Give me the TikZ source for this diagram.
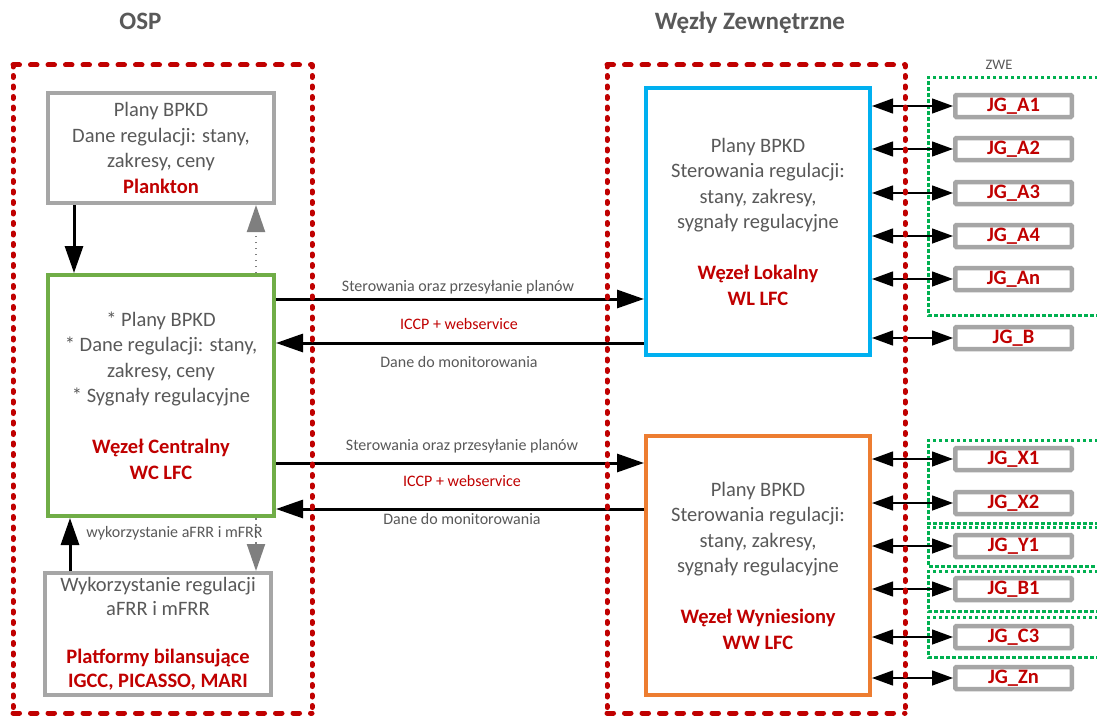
\documentclass[tikz,border=0pt]{standalone}
\usepackage{fontspec}
\setmainfont{Carlito}
\usetikzlibrary{arrows.meta}
\definecolor{txtgray}{HTML}{595959}
\definecolor{darkred}{HTML}{C00000}
\definecolor{boxgray}{HTML}{A6A6A6}
\definecolor{lfcgreen}{HTML}{70AD47}
\definecolor{lfcblue}{HTML}{00B0F0}
\definecolor{lfcorange}{HTML}{ED7D31}
\definecolor{zwegreen}{HTML}{00B050}
\definecolor{tipgray}{HTML}{7F7F7F}
\newcommand{\redb}[1]{\textcolor{darkred}{\bfseries #1}}

\begin{document}
\begin{tikzpicture}[x=1pt,y=-1pt,
  bigtext/.style={font=\fontsize{20.5}{25.5}\selectfont, text=txtgray, align=center},
  panel/.style={draw, line width=4pt, fill=white, inner sep=0pt, bigtext},
  jgbox/.style={draw=boxgray, line width=4.5pt, fill=white, rounded corners=1pt,
    minimum width=116.5pt, minimum height=22pt, inner sep=0pt,
    font=\fontsize{20.5}{24}\selectfont\bfseries, text=darkred},
  smalltext/.style={font=\fontsize{16}{19}\selectfont, text=txtgray, anchor=base},
  title/.style={font=\fontsize{25}{30}\selectfont\bfseries, text=txtgray, anchor=base},
  redh/.style={draw=darkred, line width=5pt, line cap=round, dash pattern=on 6.5pt off 11pt},
  redv/.style={draw=darkred, line width=5pt, line cap=round, dash pattern=on 2pt off 8.5pt},
  zwe/.style={draw=zwegreen, line width=3pt, dash pattern=on 3.5pt off 2.5pt},
  bigarrow/.style={line width=3pt, -{Triangle[length=27pt,width=18pt]}},
  greyarrow/.style={draw=tipgray, line width=2pt, dash pattern=on 1.5pt off 4.5pt,
    -{Triangle[length=27pt,width=18pt,fill=tipgray,color=tipgray,sep=0pt]}},
  dbl/.style={line width=1.3pt, {Triangle[length=21pt,width=15pt]}-{Triangle[length=21pt,width=15pt]}}
]
\clip (0,0) rectangle (1097,717);
\fill[white] (0,0) rectangle (1097,717);

% titles
\node[title] (tosp) at (140.5,29.5) {OSP};
\node[title] (twz) at (750,30) {Węzły Zewnętrzne};
\node[smalltext, font=\fontsize{14.5}{16}\selectfont] (tzwe) at (999,69.5) {ZWE};

% ZWE groups (green dotted frames)
\draw[zwe] (1110,77) -- (928,77) -- (928,315) -- (1110,315);
\draw[zwe] (1110,440) -- (928,440) -- (928,523) -- (1110,523);
\draw[zwe] (1110,527) -- (928,527) -- (928,566) -- (1110,566);
\draw[zwe] (1110,571) -- (928,571) -- (928,611) -- (1110,611);
\draw[zwe] (1110,617) -- (928,617) -- (928,657) -- (1110,657);

% OSP side
\node[panel, draw=boxgray, minimum width=226pt, minimum height=110pt] (plank) at (161,148)
  {Plany BPKD\\Dane regulacji: stany,\\zakresy, ceny\\\redb{Plankton}};
\node[panel, draw=lfcgreen, minimum width=226pt, minimum height=241pt] (wc) at (161,395.5)
  {* Plany BPKD\\* Dane regulacji: stany,\\zakresy, ceny\\* Sygnały regulacyjne\\[25.5pt]\redb{Węzeł Centralny}\\\redb{WC LFC}};
\node[panel, draw=boxgray, minimum width=226pt, minimum height=122pt,
  font=\fontsize{20.5}{24}\selectfont] (plat) at (158,634)
  {Wykorzystanie regulacji\\aFRR i mFRR\\[24pt]\redb{Platformy bilansujące}\\\redb{IGCC, PICASSO, MARI}};

% external nodes
\node[panel, draw=lfcblue, minimum width=224pt, minimum height=267pt] (wl) at (758,221.5)
  {Plany BPKD\\Sterowania regulacji:\\stany, zakresy,\\sygnały regulacyjne\\[25.5pt]\redb{Węzeł Lokalny}\\\redb{WL LFC}};
\node[panel, draw=lfcorange, minimum width=224pt, minimum height=259pt] (ww) at (758,565.5)
  {Plany BPKD\\Sterowania regulacji:\\stany, zakresy,\\sygnały regulacyjne\\[25.5pt]\redb{Węzeł Wyniesiony}\\\redb{WW LFC}};

% generating units
\node[jgbox] (a1) at (1013.5,106) {JG\_A1};
\node[jgbox] (a2) at (1013.5,149) {JG\_A2};
\node[jgbox] (a3) at (1013.5,193) {JG\_A3};
\node[jgbox] (a4) at (1013.5,236) {JG\_A4};
\node[jgbox] (an) at (1013.5,279) {JG\_An};
\node[jgbox] (jb) at (1013.5,338) {JG\_B};
\node[jgbox] (x1) at (1013.5,459) {JG\_X1};
\node[jgbox] (x2) at (1013.5,503) {JG\_X2};
\node[jgbox] (y1) at (1013.5,546) {JG\_Y1};
\node[jgbox] (b1) at (1013.5,589) {JG\_B1};
\node[jgbox] (c3) at (1013.5,637) {JG\_C3};
\node[jgbox] (zn) at (1013.5,678) {JG\_Zn};

% unit links
\foreach \u in {a1,a2,a3,a4,an,jb} \draw[dbl] (wl.east |- \u.west) -- (\u.west);
\foreach \u in {x1,x2,y1,b1,c3,zn} \draw[dbl] (ww.east |- \u.west) -- (\u.west);

% vertical links on the OSP side
\coordinate (xa) at (74,0);
\coordinate (xb) at (70,0);
\coordinate (xg) at (256,0);
\draw[bigarrow] (plank.south -| xa) -- (wc.north -| xa);
\draw[greyarrow] (wc.north -| xg) -- (plank.south -| xg);
\draw[bigarrow] (plat.north -| xb) -- (wc.south -| xb);
\draw[greyarrow] (wc.south -| xg) -- (plat.north -| xg);
\node[smalltext] (lafrr) at (174.5,537.3) {wykorzystanie aFRR i mFRR};

% links between central and external nodes
\coordinate (r1) at (0,299);
\coordinate (r2) at (0,343);
\coordinate (r3) at (0,463);
\coordinate (r4) at (0,509);
\draw[bigarrow] (wc.east |- r1) -- (wl.west |- r1);
\draw[bigarrow] (wl.west |- r2) -- (wc.east |- r2);
\draw[bigarrow] (wc.east |- r3) -- (ww.west |- r3);
\draw[bigarrow] (ww.west |- r4) -- (wc.east |- r4);
\node[smalltext] (l1) at (458,291.7) {Sterowania oraz przesyłanie planów};
\node[smalltext, text=darkred] (l2) at (459,329.5) {ICCP + webservice};
\node[smalltext] (l3) at (459,367.3) {Dane do monitorowania};
\node[smalltext] (l4) at (462,450.7) {Sterowania oraz przesyłanie planów};
\node[smalltext, text=darkred] (l5) at (462,486.7) {ICCP + webservice};
\node[smalltext] (l6) at (462,524) {Dane do monitorowania};

% domain frames
\draw[redh] (13,65) -- (312,65);
\draw[redh] (13,713) -- (312,713);
\draw[redv] (13,65) -- (13,713);
\draw[redv] (312,65) -- (312,713);
\draw[redh] (607,65) -- (905,65);
\draw[redh] (607,713) -- (905,713);
\draw[redv] (607,65) -- (607,713);
\draw[redv] (905,65) -- (905,713);
\end{tikzpicture}
\end{document}
